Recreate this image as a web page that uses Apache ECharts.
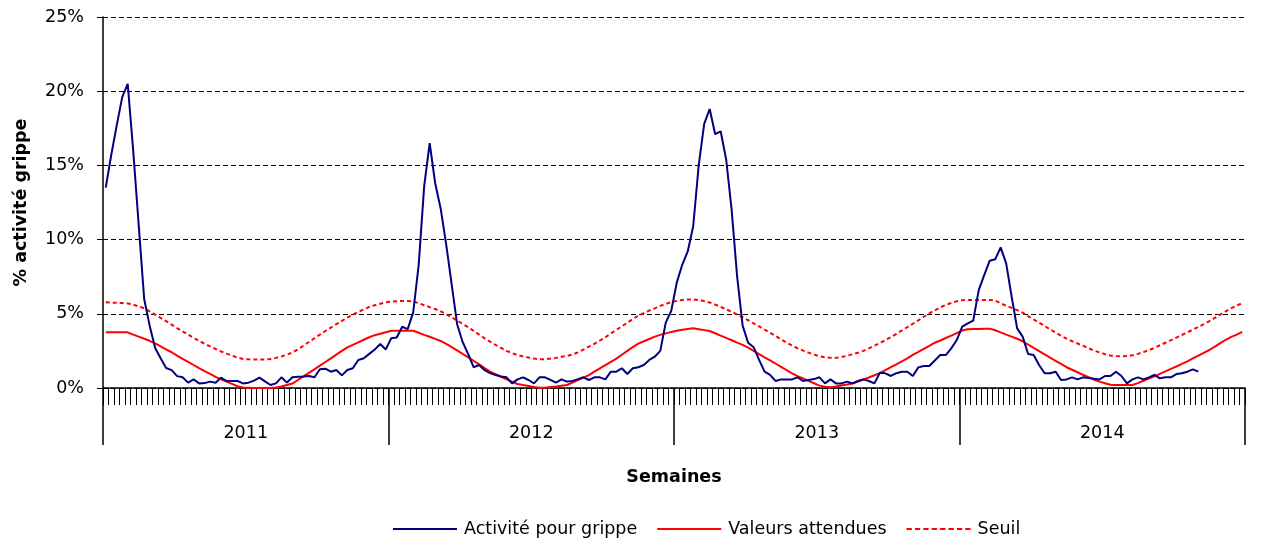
<!DOCTYPE html>
<html>
<head>
<meta charset="utf-8">
<script src="https://cdn.jsdelivr.net/npm/echarts@6/dist/echarts.min.js"></script>
<style>html,body{margin:0;padding:0;background:#fff}#c{width:1264px;height:548px}</style>
</head>
<body>
<div id="c"></div>
<script>
// ---- data ----
const years = ['2011', '2012', '2013', '2014'];
const weeksPerYear = [52, 52, 52, 52];
const yTicks = [0, 5, 10, 15, 20, 25];

const activite = [
 13.5, 15.7, 17.7, 19.6, 20.5, 16.0, 11.0, 6.0, 4.2, 2.7,
 2.0, 1.35, 1.2, 0.8, 0.72, 0.36, 0.58, 0.31, 0.33, 0.43,
 0.36, 0.7, 0.47, 0.47, 0.47, 0.31, 0.36, 0.5, 0.7, 0.45,
 0.2, 0.31, 0.72, 0.36, 0.72, 0.75, 0.77, 0.81, 0.72, 1.26,
 1.3, 1.1, 1.21, 0.85, 1.21, 1.33, 1.89, 2.0, 2.3, 2.6,
 2.96, 2.6, 3.35, 3.4, 4.13, 3.97, 5.1, 8.3, 13.6, 16.5,
 13.8, 12.1, 9.7, 7.0, 4.3, 3.1, 2.3, 1.4, 1.55, 1.2,
 1.0, 0.88, 0.77, 0.72, 0.31, 0.58, 0.72, 0.54, 0.31, 0.72,
 0.72, 0.55, 0.36, 0.58, 0.43, 0.47, 0.6, 0.72, 0.54, 0.72,
 0.72, 0.58, 1.1, 1.1, 1.33, 0.94, 1.33, 1.4, 1.55, 1.89,
 2.11, 2.5, 4.4, 5.2, 7.1, 8.3, 9.2, 10.9, 15.0, 17.8,
 18.8, 17.1, 17.3, 15.4, 12.0, 7.5, 4.2, 3.05, 2.75, 1.9,
 1.1, 0.88, 0.47, 0.58, 0.58, 0.58, 0.72, 0.47, 0.54, 0.6,
 0.72, 0.31, 0.58, 0.31, 0.31, 0.43, 0.31, 0.47, 0.58, 0.47,
 0.31, 1.03, 0.99, 0.81, 1.0, 1.1, 1.1, 0.81, 1.39, 1.48,
 1.48, 1.85, 2.22, 2.22, 2.67, 3.23, 4.13, 4.35, 4.54, 6.6,
 7.61, 8.58, 8.67, 9.48, 8.4, 6.15, 4.02, 3.46, 2.29, 2.22,
 1.55, 0.99, 0.99, 1.1, 0.54, 0.58, 0.72, 0.58, 0.72, 0.68,
 0.62, 0.58, 0.81, 0.81, 1.1, 0.81, 0.31, 0.58, 0.72, 0.58,
 0.72, 0.88, 0.65, 0.72, 0.72, 0.94, 0.99, 1.1, 1.26, 1.1
];

const attendues = [
 3.75, 3.75, 3.75, 3.75, 3.75, 3.6, 3.46, 3.32, 3.18, 3.0,
 2.8, 2.6, 2.41, 2.18, 1.97, 1.76, 1.55, 1.34, 1.14, 0.95,
 0.75, 0.58, 0.43, 0.28, 0.12, 0.04, 0.02, 0, 0, 0,
 0, 0.03, 0.1, 0.2, 0.3, 0.54, 0.78, 1.02, 1.26, 1.51,
 1.75, 2.0, 2.25, 2.5, 2.74, 2.91, 3.08, 3.25, 3.42, 3.56,
 3.66, 3.76, 3.86, 3.86, 3.86, 3.86, 3.86, 3.72, 3.58, 3.45,
 3.31, 3.17, 2.98, 2.76, 2.53, 2.3, 2.08, 1.83, 1.59, 1.34,
 1.1, 0.93, 0.76, 0.59, 0.42, 0.27, 0.2, 0.14, 0.07, 0.02,
 0.02, 0.06, 0.1, 0.15, 0.2, 0.36, 0.53, 0.7, 0.87, 1.1,
 1.32, 1.54, 1.76, 1.98, 2.24, 2.5, 2.76, 2.99, 3.15, 3.3,
 3.46, 3.58, 3.68, 3.78, 3.86, 3.92, 3.97, 4.02, 3.96, 3.9,
 3.84, 3.69, 3.53, 3.38, 3.22, 3.06, 2.91, 2.72, 2.5, 2.29,
 2.07, 1.86, 1.65, 1.43, 1.21, 0.99, 0.8, 0.64, 0.48, 0.32,
 0.16, 0.09, 0.05, 0.1, 0.17, 0.23, 0.3, 0.43, 0.57, 0.71,
 0.86, 1.0, 1.2, 1.4, 1.6, 1.8, 2.0, 2.23, 2.43, 2.64,
 2.84, 3.05, 3.2, 3.37, 3.53, 3.7, 3.87, 3.96, 3.97, 3.98,
 3.99, 4.0, 3.89, 3.75, 3.6, 3.46, 3.32, 3.15, 2.93, 2.7,
 2.48, 2.26, 2.04, 1.83, 1.62, 1.4, 1.23, 1.06, 0.89, 0.73,
 0.56, 0.43, 0.32, 0.22, 0.2, 0.2, 0.2, 0.2, 0.33, 0.49,
 0.65, 0.78, 0.95, 1.12, 1.29, 1.45, 1.62, 1.8, 1.99, 2.18,
 2.37, 2.56, 2.79, 3.02, 3.25, 3.44, 3.6, 3.78
];

const seuil = [
 5.77, 5.75, 5.74, 5.72, 5.7, 5.62, 5.5, 5.37, 5.17, 4.95,
 4.72, 4.5, 4.27, 4.03, 3.82, 3.6, 3.38, 3.18, 2.98, 2.8,
 2.63, 2.46, 2.32, 2.18, 2.05, 1.96, 1.93, 1.92, 1.92, 1.93,
 1.96, 2.03, 2.12, 2.25, 2.4, 2.6, 2.85, 3.1, 3.35, 3.6,
 3.84, 4.07, 4.3, 4.52, 4.74, 4.95, 5.13, 5.3, 5.46, 5.58,
 5.68, 5.77, 5.83, 5.85, 5.86, 5.86, 5.83, 5.72, 5.58, 5.45,
 5.32, 5.17, 4.98, 4.77, 4.55, 4.32, 4.1, 3.85, 3.6, 3.35,
 3.12, 2.9, 2.7, 2.5, 2.35, 2.22, 2.12, 2.05, 1.98, 1.94,
 1.94, 1.98, 2.03, 2.1, 2.16, 2.25, 2.4, 2.58, 2.78, 2.98,
 3.2, 3.42, 3.67, 3.92, 4.15, 4.4, 4.65, 4.87, 5.05, 5.22,
 5.37, 5.53, 5.67, 5.78, 5.87, 5.93, 5.96, 5.97, 5.93, 5.86,
 5.76, 5.62, 5.47, 5.3, 5.13, 4.95, 4.77, 4.57, 4.35, 4.15,
 3.93, 3.72, 3.5, 3.28, 3.06, 2.86, 2.68, 2.52, 2.38, 2.25,
 2.14, 2.07, 2.03, 2.03, 2.08, 2.17, 2.27, 2.38, 2.5, 2.67,
 2.85, 3.03, 3.23, 3.43, 3.65, 3.88, 4.1, 4.33, 4.56, 4.8,
 5.03, 5.23, 5.43, 5.6, 5.73, 5.85, 5.92, 5.93, 5.93, 5.93,
 5.93, 5.93, 5.9, 5.7, 5.55, 5.4, 5.25, 5.08, 4.85, 4.62,
 4.4, 4.18, 3.95, 3.73, 3.52, 3.33, 3.15, 3.0, 2.85, 2.68,
 2.52, 2.4, 2.28, 2.18, 2.15, 2.14, 2.15, 2.2, 2.3, 2.42,
 2.55, 2.7, 2.88, 3.05, 3.22, 3.4, 3.57, 3.75, 3.93, 4.12,
 4.3, 4.5, 4.72, 4.95, 5.17, 5.38, 5.55, 5.72
];

// ---- derived axis helpers ----
const weeks = [];
years.forEach((y, k) => { for (let w = 1; w <= weeksPerYear[k]; w++) weeks.push(y + '-S' + String(w).padStart(2, '0')); });
const totalWeeks = weeks.length;
const yearBounds = [0];
weeksPerYear.forEach(n => yearBounds.push(yearBounds[yearBounds.length - 1] + n));
const yearMids = years.map((y, k) => (yearBounds[k] + yearBounds[k + 1]) / 2);

// legend icons (solid line / dashed line)
const solidIcon = 'path://M0,0H64V2H0Z';
let dashPath = '';
for (let k = 0; k < 8; k++) dashPath += 'M' + (k * 8) + ',0h5v2h-5Z';
const dashIcon = 'path://' + dashPath;

const FONT = 'DejaVu Sans, sans-serif';
const FS = 17.5;
const chart = echarts.init(document.getElementById('c'), null, { renderer: 'canvas' });
chart.setOption({
  animation: false,
  backgroundColor: '#ffffff',
  textStyle: { fontFamily: FONT, color: '#000' },
  grid: { left: 103, right: 19, top: 17, bottom: 160, containLabel: false, outerBoundsMode: 'none' },
  legend: {
    left: 388, top: 515,
    itemWidth: 64, itemHeight: 2, itemGap: 20, symbolKeepAspect: false,
    textStyle: { fontFamily: FONT, fontSize: FS, color: '#000', padding: [0, 0, 0, 2] },
    data: [
      { name: 'Activité pour grippe', icon: solidIcon },
      { name: 'Valeurs attendues', icon: solidIcon },
      { name: 'Seuil', icon: dashIcon }
    ]
  },
  xAxis: [
    {
      type: 'category', data: weeks, boundaryGap: true,
      name: 'Semaines', nameLocation: 'middle', nameGap: 80,
      nameTextStyle: { fontFamily: FONT, fontSize: FS, fontWeight: 'bold', color: '#000' },
      axisLine: { show: true, lineStyle: { color: '#000', width: 1.5 } },
      axisTick: { show: true, interval: 0, length: 17, lineStyle: { color: '#000', width: 1 } },
      axisLabel: { show: false },
      splitLine: { show: false }
    },
    {
      type: 'value', min: 0, max: totalWeeks, position: 'bottom',
      axisLine: { show: false },
      axisTick: { show: true, length: 57, customValues: yearBounds, lineStyle: { color: '#000', width: 1.5 } },
      axisLabel: {
        show: true, customValues: yearMids, margin: 36,
        fontFamily: FONT, fontSize: FS, color: '#000',
        formatter: v => { const k = yearMids.indexOf(v); return k >= 0 ? years[k] : ''; }
      },
      splitLine: { show: false }
    }
  ],
  yAxis: {
    type: 'value', min: yTicks[0], max: yTicks[yTicks.length - 1], interval: 5,
    name: '% activité grippe', nameLocation: 'middle', nameGap: 73, nameRotate: 90,
    nameTextStyle: { fontFamily: FONT, fontSize: FS, fontWeight: 'bold', color: '#000' },
    axisLine: { show: true, lineStyle: { color: '#000', width: 1.5 } },
    axisTick: { show: true, length: 6, lineStyle: { color: '#000' } },
    axisLabel: { formatter: '{value}%', fontFamily: FONT, fontSize: FS, color: '#000', margin: 19 },
    splitLine: { show: true, lineStyle: { color: '#000', type: [5, 3], width: 1 } }
  },
  series: [
    { name: 'Activité pour grippe', type: 'line', data: activite, symbol: 'none', xAxisIndex: 0,
      lineStyle: { color: '#000080', width: 2 }, itemStyle: { color: '#000080' }, z: 5 },
    { name: 'Valeurs attendues', type: 'line', data: attendues, symbol: 'none', xAxisIndex: 0,
      lineStyle: { color: '#ff0000', width: 2 }, itemStyle: { color: '#ff0000' }, z: 4 },
    { name: 'Seuil', type: 'line', data: seuil, symbol: 'none', xAxisIndex: 0,
      lineStyle: { color: '#ff0000', width: 2, type: [4, 3] }, itemStyle: { color: '#ff0000' }, z: 3 }
  ]
});
</script>
</body>
</html>
